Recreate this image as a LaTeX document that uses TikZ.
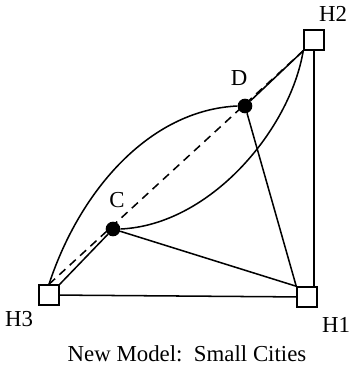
\documentclass[tikz,border=0pt]{standalone}
\usepackage{fontspec}
\setmainfont{Liberation Serif}
\tikzset{
  hub/.style={draw,rectangle,fill=white,minimum size=0.6cm,inner sep=0pt,line width=1.3pt},
  stop/.style={circle,fill=black,minimum size=0.44cm,inner sep=0pt},
  lbl/.style={font=\fontsize{19.5}{22}\selectfont},
  link/.style={line width=1.3pt}
}
\begin{document}
\begin{tikzpicture}[x=0.03cm,y=-0.03cm]
  \useasboundingbox (0,0) rectangle (358,370);
  \node[hub] (H2) at (314,40) {};
  \node[hub] (H3) at (49,295) {};
  \node[hub] (H1) at (307,297) {};
  \node[stop] (D) at (245,106) {};
  \node[stop] (C) at (113,229) {};
  \node[lbl] at (333,14) {H2}; \node[lbl] at (239,78) {D};
  \node[lbl] at (117,200) {C}; \node[lbl] at (19,319) {H3};
  \node[lbl] at (336,325) {H1};
  \node[lbl] at (187,354) {New Model:\ \ Small Cities};
  % straight links
  \draw[link] (H3) -- (H1);
  \draw[link] (H2.south) -- (H2.south |- H1.north);
  \draw[link] (D) -- (H1.north west);
  \draw[link] (C) -- (H1.north west);
  \draw[link] (H3.north east) -- (C);
  \draw[link] (D) -- (H2.south west);
  \draw[link,dash pattern=on 7pt off 5pt] (H3.north) -- (H2.south west);
  % curved links
  \draw[link] (H3.north) .. controls (80,190) and (150,110) .. (D.west);
  \draw[link] (C.east) .. controls (210,225) and (290,130) .. (H2.south west);
\end{tikzpicture}
\end{document}
